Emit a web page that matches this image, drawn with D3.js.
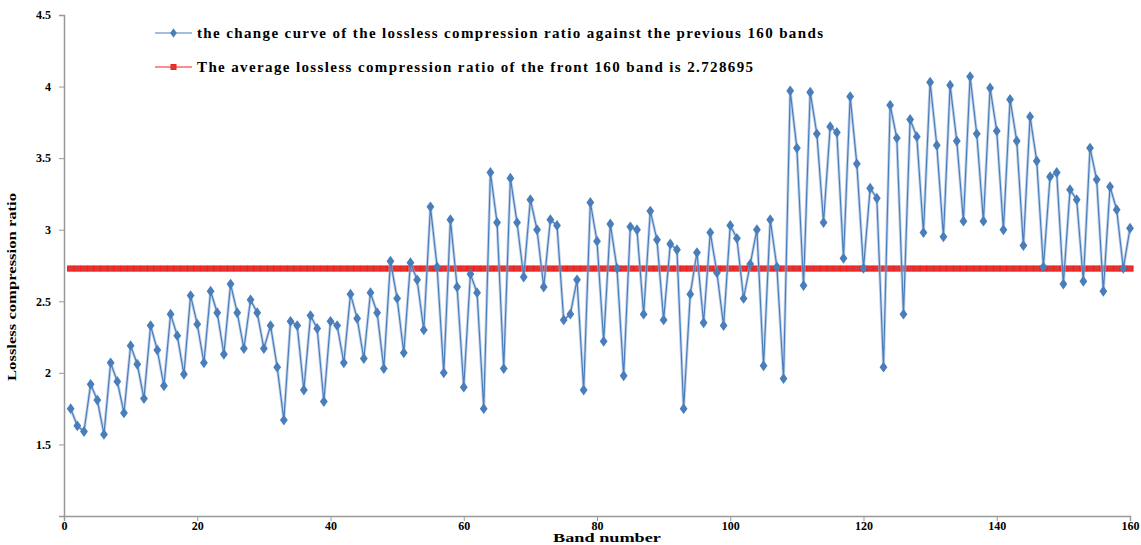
<!DOCTYPE html>
<html>
<head>
<meta charset="utf-8">
<script src="https://cdn.jsdelivr.net/npm/d3@7"></script>
<style>
  body { margin: 0; background: #fff; }
  text { font-family: "Liberation Serif", "Times New Roman", serif; font-weight: bold; }
</style>
</head>
<body>
<svg width="1141" height="545"></svg>
<script>
var bands = d3.range(1, 161);
var ratios = [
  1.75, 1.63, 1.59, 1.92, 1.81, 1.57, 2.07, 1.94, 1.72, 2.19,
  2.06, 1.82, 2.33, 2.16, 1.91, 2.41, 2.26, 1.99, 2.54, 2.34,
  2.07, 2.57, 2.42, 2.13, 2.62, 2.42, 2.17, 2.51, 2.42, 2.17,
  2.33, 2.04, 1.67, 2.36, 2.33, 1.88, 2.40, 2.31, 1.80, 2.36,
  2.33, 2.07, 2.55, 2.38, 2.10, 2.56, 2.42, 2.03, 2.78, 2.52,
  2.14, 2.77, 2.65, 2.30, 3.16, 2.74, 2.00, 3.07, 2.60, 1.90,
  2.69, 2.56, 1.75, 3.40, 3.05, 2.03, 3.36, 3.05, 2.67, 3.21,
  3.00, 2.60, 3.07, 3.03, 2.37, 2.41, 2.65, 1.88, 3.19, 2.92,
  2.22, 3.04, 2.73, 1.98, 3.02, 3.00, 2.41, 3.13, 2.93, 2.37,
  2.90, 2.86, 1.75, 2.55, 2.84, 2.35, 2.98, 2.70, 2.33, 3.03,
  2.94, 2.52, 2.76, 3.00, 2.05, 3.07, 2.74, 1.96, 3.97, 3.57,
  2.61, 3.96, 3.67, 3.05, 3.72, 3.68, 2.80, 3.93, 3.46, 2.73,
  3.29, 3.22, 2.04, 3.87, 3.64, 2.41, 3.77, 3.65, 2.98, 4.03,
  3.59, 2.95, 4.01, 3.62, 3.06, 4.07, 3.67, 3.06, 3.99, 3.69,
  3.00, 3.91, 3.62, 2.89, 3.79, 3.48, 2.74, 3.37, 3.40, 2.62,
  3.28, 3.21, 2.64, 3.57, 3.35, 2.57, 3.30, 3.14, 2.73, 3.01
];
var average = 2.728695;
var xTicks = [0, 20, 40, 60, 80, 100, 120, 140, 160];
var yTicks = [1.5, 2, 2.5, 3, 3.5, 4, 4.5];
var legendLabels = [
  'the change curve of the lossless compression ratio against the previous 160 bands',
  'The average lossless compression ratio of the front 160 band is 2.728695'
];

var svg = d3.select('svg');
var margin = { top: 15, right: 11, bottom: 29, left: 64 };
var width = +svg.attr('width') - margin.left - margin.right;
var height = +svg.attr('height') - margin.top - margin.bottom;
var g = svg.append('g').attr('transform', `translate(${margin.left}, ${margin.top})`);

var x = d3.scaleLinear().domain([0, 160]).range([0, width]);
var y = d3.scaleLinear().domain([1, 4.5]).range([height, 0]);

var blue = '#4a7ebb';
var red = '#ff1a1a';

function styleAxis(a) {
  a.select('.domain').attr('stroke', '#999').attr('stroke-width', 1.5);
  a.selectAll('.tick line').attr('stroke', '#999');
  a.selectAll('.tick text').attr('font-size', 12).attr('fill', '#000')
    .attr('font-family', '"Liberation Serif", serif').attr('font-weight', 'bold');
}

// axes
var xAxis = d3.axisBottom(x).tickValues(xTicks).tickSize(5).tickPadding(0);
var yAxis = d3.axisLeft(y).tickValues([1].concat(yTicks)).tickSize(5).tickPadding(8)
  .tickFormat(function (d) { return d === 1 ? '' : d; });

g.append('g')
  .attr('transform', `translate(0,${height})`)
  .call(xAxis)
  .call(styleAxis);

g.append('g')
  .call(yAxis)
  .call(styleAxis);

// axis titles
svg.append('text')
  .attr('x', margin.left + x(81.5)).attr('y', 542)
  .attr('text-anchor', 'middle').attr('font-size', 12)
  .attr('textLength', 108).attr('lengthAdjust', 'spacingAndGlyphs')
  .text('Band number');

svg.append('text')
  .attr('transform', `translate(16, ${margin.top + y(2.6)}) rotate(-90)`)
  .attr('text-anchor', 'middle').attr('font-size', 12)
  .attr('textLength', 188).attr('lengthAdjust', 'spacingAndGlyphs')
  .text('Lossless compression ratio');

// average line
g.append('path')
  .datum(bands)
  .attr('fill', 'none').attr('stroke', red).attr('stroke-width', 1.5)
  .attr('d', d3.line().x(function (d) { return x(d); }).y(y(average)));

g.selectAll('.avg')
  .data(bands)
  .enter().append('rect')
  .attr('class', 'avg')
  .attr('x', function (d) { return x(d) - 3; })
  .attr('y', y(average) - 2.5)
  .attr('width', 6).attr('height', 5)
  .attr('fill', '#c9403c').attr('stroke', red).attr('stroke-width', 1.2);

// ratio curve
var line = d3.line()
  .x(function (d, i) { return x(bands[i]); })
  .y(function (d) { return y(d); });

g.append('path')
  .datum(ratios)
  .attr('fill', 'none').attr('stroke', '#9db8dc').attr('stroke-width', 3).attr('opacity', 0.6)
  .attr('d', line);
g.append('path')
  .datum(ratios)
  .attr('fill', 'none').attr('stroke', blue).attr('stroke-width', 1.2)
  .attr('d', line);

var diamond = d3.symbol().type(d3.symbolDiamond).size(34);
g.selectAll('.pt')
  .data(ratios)
  .enter().append('path')
  .attr('class', 'pt')
  .attr('transform', function (d, i) { return `translate(${x(bands[i])},${y(d)}) scale(1.25,1)`; })
  .attr('d', diamond)
  .attr('fill', blue);

// legend
var legend = svg.append('g');
var legendY = [33, 67];
var legendLen = [626, 556];
legend.selectAll('line')
  .data(legendLabels)
  .enter().append('line')
  .attr('x1', 155).attr('x2', 192)
  .attr('y1', function (d, i) { return legendY[i]; })
  .attr('y2', function (d, i) { return legendY[i]; })
  .attr('stroke', function (d, i) { return i === 0 ? blue : red; })
  .attr('stroke-width', 1.2);

legend.append('path')
  .attr('transform', `translate(173.5,${legendY[0]}) scale(1.2,1)`)
  .attr('d', d3.symbol().type(d3.symbolDiamond).size(26))
  .attr('fill', blue);
legend.append('rect')
  .attr('x', 171).attr('y', legendY[1] - 2.5).attr('width', 5).attr('height', 5)
  .attr('fill', '#c9403c').attr('stroke', red);

legend.selectAll('text')
  .data(legendLabels)
  .enter().append('text')
  .attr('x', 197)
  .attr('y', function (d, i) { return legendY[i] + 5; })
  .attr('font-size', 15)
  .attr('textLength', function (d, i) { return legendLen[i]; })
  .attr('lengthAdjust', 'spacing')
  .text(function (d) { return d; });
</script>
</body>
</html>
